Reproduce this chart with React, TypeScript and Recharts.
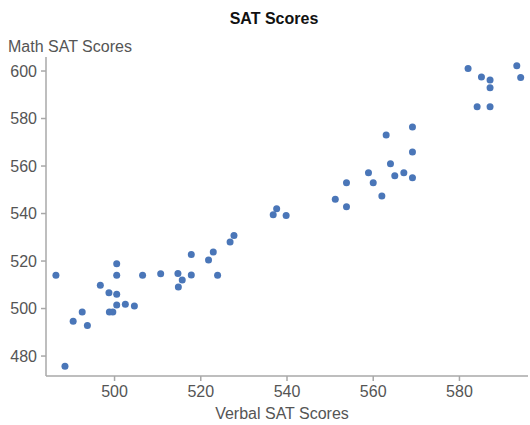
import React from 'react';
import { ScatterChart, Scatter, XAxis, YAxis } from 'recharts';

const verbal: number[] = [
  486.4, 500.5, 500.5, 506.5, 510.7, 514.7, 515.7, 514.8, 517.8, 517.8,
  521.8, 522.9, 523.9, 526.8, 527.7, 496.7, 498.7, 500.5, 500.5, 502.5,
  504.6, 498.8, 499.6, 492.5, 490.4, 493.7, 488.5, 537.6, 536.8, 539.8,
  551.2, 553.8, 553.8, 558.9, 560.0, 562.0, 563.0, 564.0, 565.0, 567.1,
  569.1, 569.1, 569.1, 582.0, 585.1, 587.1, 587.1, 584.1, 587.1, 593.3,
  594.2,
];
const math: number[] = [
  514.0, 518.9, 514.0, 514.0, 514.7, 514.8, 512.0, 509.1, 514.1, 522.7,
  520.4, 523.8, 514.0, 528.0, 530.8, 509.8, 506.7, 506.0, 501.5, 501.8,
  501.1, 498.5, 498.5, 498.5, 494.7, 492.9, 475.7, 542.0, 539.5, 539.2,
  546.0, 553.0, 542.9, 557.2, 553.0, 547.4, 573.1, 561.0, 555.9, 557.2,
  555.1, 565.9, 576.4, 601.1, 597.5, 596.2, 593.0, 585.0, 585.0, 602.2,
  597.3,
];
const xTicks: number[] = [500, 520, 540, 560, 580];
const yTicks: number[] = [480, 500, 520, 540, 560, 580, 600];

const chartTitle = 'SAT Scores';
const xTitle = 'Verbal SAT Scores';
const yTitle = 'Math SAT Scores';

const data = verbal.map((v, i) => ({ verbal: v, math: math[i] }));

const FONT = '"Liberation Sans", Arial, sans-serif';
const TEXT = '#555';
const AXIS = '#a8a8a8';

export default function App() {
  return (
    <div style={{ position: 'absolute', left: 0, top: 0, width: 530, height: 425, background: '#fff' }}>
      <ScatterChart width={530} height={425} margin={{ top: 57, right: 2, bottom: 0, left: 0 }}>
        <XAxis
          type="number"
          dataKey="verbal"
          domain={[484.1, 595.9]}
          allowDataOverflow
          ticks={xTicks}
          height={49}
          tickSize={5}
          tickMargin={5}
          stroke={AXIS}
          strokeWidth={1.5}
          tick={{ fill: TEXT, fontSize: 16, fontFamily: FONT }}
          label={{
            content: () => (
              <text x={282} y={419} textAnchor="middle" fill={TEXT} fontSize={16} fontFamily={FONT}>
                {xTitle}
              </text>
            ),
          }}
        />
        <YAxis
          type="number"
          dataKey="math"
          domain={[471.6, 605.9]}
          allowDataOverflow
          ticks={yTicks}
          width={46}
          tickSize={5}
          tickMargin={4}
          stroke={AXIS}
          strokeWidth={1.5}
          tick={{ fill: TEXT, fontSize: 16, fontFamily: FONT }}
          label={{
            content: () => (
              <g>
                <text x={274} y={24} textAnchor="middle" fill="#111" fontSize={16} fontWeight="bold" fontFamily={FONT}>
                  {chartTitle}
                </text>
                <text x={8} y={52} textAnchor="start" fill={TEXT} fontSize={16} fontFamily={FONT}>
                  {yTitle}
                </text>
              </g>
            ),
          }}
        />
        <Scatter
          data={data}
          fill="#4a76b8"
          isAnimationActive={false}
          shape={(p: any) => <circle cx={p.cx} cy={p.cy} r={3.5} fill="#4a76b8" />}
        />
      </ScatterChart>
    </div>
  );
}
